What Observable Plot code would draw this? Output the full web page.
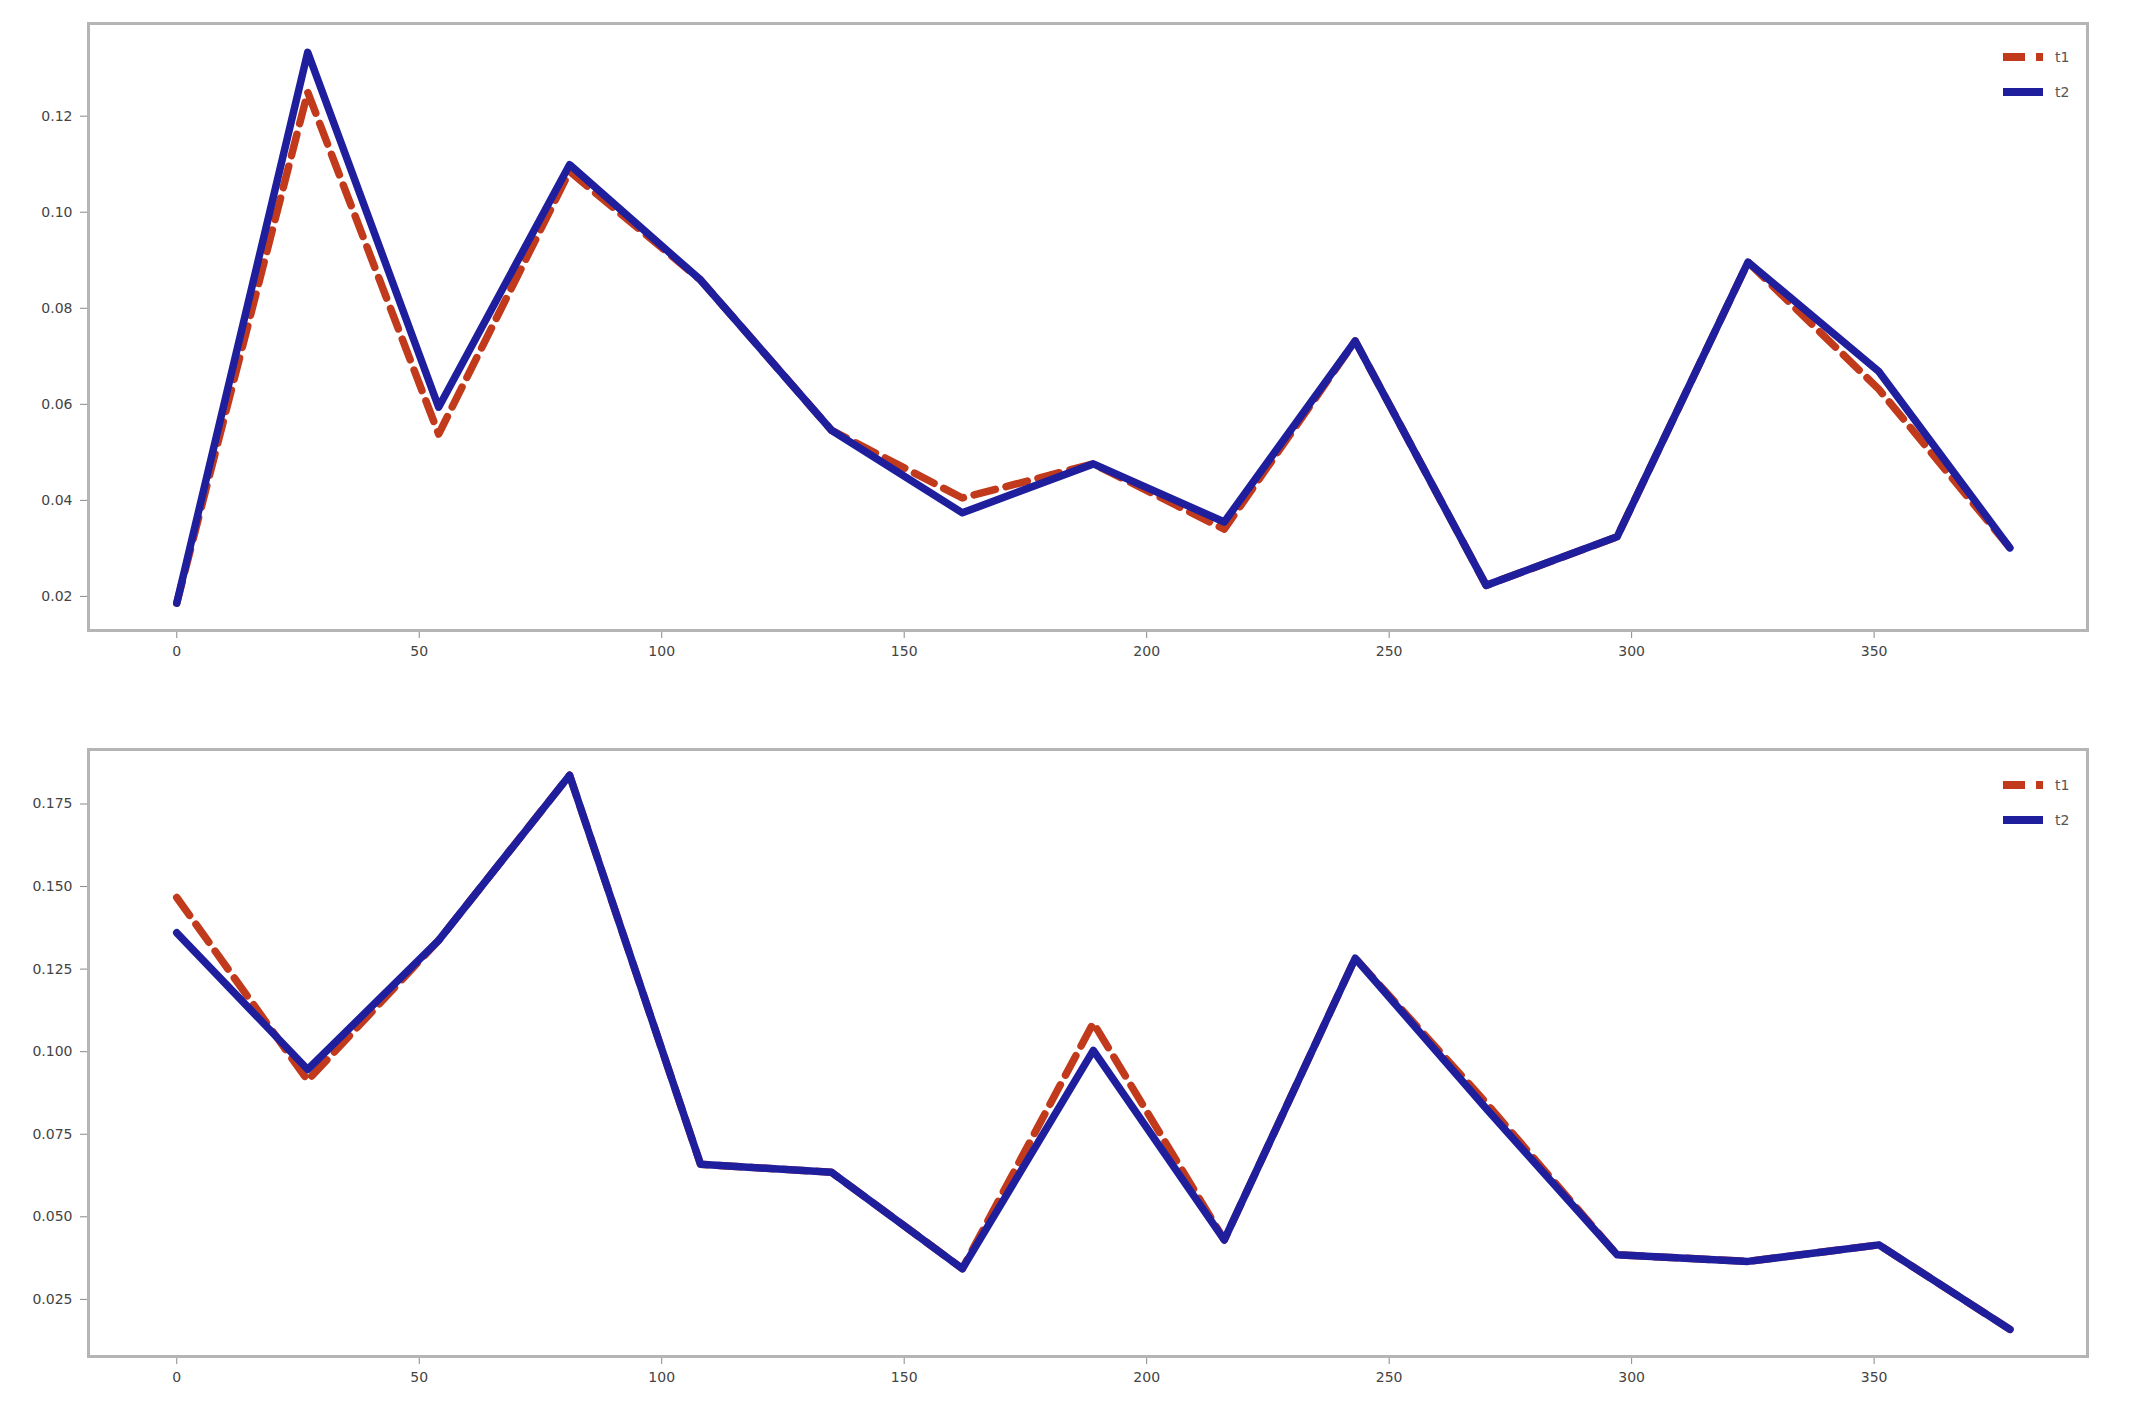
<!DOCTYPE html>
<html><head><meta charset="utf-8">
<script src="https://cdn.jsdelivr.net/npm/d3@7"></script>
<script src="https://cdn.jsdelivr.net/npm/@observablehq/plot@0.6"></script>
<style>
body{margin:0;background:#fff;}
#wrap{position:relative;width:2132px;height:1417px;overflow:hidden;}
.panel{position:absolute;left:0;}
.legend{position:absolute;}
</style>
</head><body><div id="wrap"></div>
<script>
const xs = [0, 27, 54, 81, 108, 135, 162, 189, 216, 243, 270, 297, 324, 351, 378];
const seriesNames = ["t1", "t2"];
const seriesColors = ["#c23a1c", "#1f1f9e"];
const topRed  = [0.0186, 0.1250, 0.0538, 0.1085, 0.0859, 0.0546, 0.0405, 0.0476, 0.0340, 0.0732, 0.0223, 0.0324, 0.0896, 0.0631, 0.0301];
const topBlue = [0.0186, 0.1333, 0.0594, 0.1099, 0.0859, 0.0546, 0.0374, 0.0476, 0.0355, 0.0732, 0.0223, 0.0324, 0.0896, 0.0668, 0.0301];
const botRed  = [0.1467, 0.0913, 0.1337, 0.1837, 0.0659, 0.0635, 0.0343, 0.1087, 0.0430, 0.1283, 0.0845, 0.0385, 0.0365, 0.0415, 0.0159];
const botBlue = [0.1360, 0.0946, 0.1337, 0.1837, 0.0659, 0.0635, 0.0343, 0.1004, 0.0430, 0.1283, 0.0828, 0.0385, 0.0365, 0.0415, 0.0159];
const xTicks = [0, 50, 100, 150, 200, 250, 300, 350];
const yTicksTop = [0.02, 0.04, 0.06, 0.08, 0.10, 0.12];
const yTicksBot = [0.025, 0.050, 0.075, 0.100, 0.125, 0.150, 0.175];

const W = 2132;
const wrap = document.getElementById("wrap");

function panel(red, blue, yTicks, yDomain, fmt, top, height, mTop, mBottom, legendY) {
  const rows = (vals, name) => xs.map((x, i) => ({x, y: vals[i], s: name}));
  const chart = Plot.plot({
    width: W, height,
    marginLeft: 88, marginRight: 45, marginTop: mTop, marginBottom: mBottom,
    style: {fontFamily: "DejaVu Sans", fontSize: "14px", color: "#444", background: "#fff"},
    x: {domain: [-18.2, 394]},
    y: {domain: yDomain},
    marks: [
      Plot.axisX({ticks: xTicks, tickSize: 8, tickPadding: 8, label: null, fontSize: 14, stroke: "#888"}),
      Plot.axisY({ticks: yTicks, tickSize: 8, tickPadding: 8, label: null, fontSize: 14, tickFormat: d3.format(fmt), stroke: "#888"}),
      Plot.line(rows(red, seriesNames[0]), {x: "x", y: "y", stroke: seriesColors[0], strokeWidth: 7.5, strokeDasharray: "22,11"}),
      Plot.line(rows(blue, seriesNames[1]), {x: "x", y: "y", stroke: seriesColors[1], strokeWidth: 7.5}),
      Plot.frame({stroke: "#b5b5b5", strokeWidth: 3})
    ]
  });
  chart.classList.add("panel");
  chart.style.top = top + "px";
  wrap.appendChild(chart);

  const lg = document.createElementNS("http://www.w3.org/2000/svg", "svg");
  lg.setAttribute("width", 90); lg.setAttribute("height", 60);
  lg.setAttribute("class", "legend");
  lg.style.left = "1998px";
  lg.style.top = (legendY - 15) + "px";
  seriesNames.forEach((n, i) => {
    const y = 15 + i * 35;
    const l = document.createElementNS("http://www.w3.org/2000/svg", "line");
    l.setAttribute("x1", 5); l.setAttribute("x2", 45);
    l.setAttribute("y1", y); l.setAttribute("y2", y);
    l.setAttribute("stroke", seriesColors[i]);
    l.setAttribute("stroke-width", 8);
    if (i === 0) l.setAttribute("stroke-dasharray", "22,11");
    lg.appendChild(l);
    const t = document.createElementNS("http://www.w3.org/2000/svg", "text");
    t.setAttribute("x", 57); t.setAttribute("y", y);
    t.setAttribute("dy", "0.35em");
    t.setAttribute("font-family", "DejaVu Sans");
    t.setAttribute("font-size", 14);
    t.setAttribute("fill", "#555");
    t.textContent = n;
    lg.appendChild(t);
  });
  wrap.appendChild(lg);
}

panel(topRed, topBlue, yTicksTop, [0.0129, 0.1393], ".2f", 0, 700, 23, 70, 57);
panel(botRed, botBlue, yTicksBot, [0.0077, 0.1915], ".3f", 700, 717, 49, 61, 785);
</script>
</body></html>
